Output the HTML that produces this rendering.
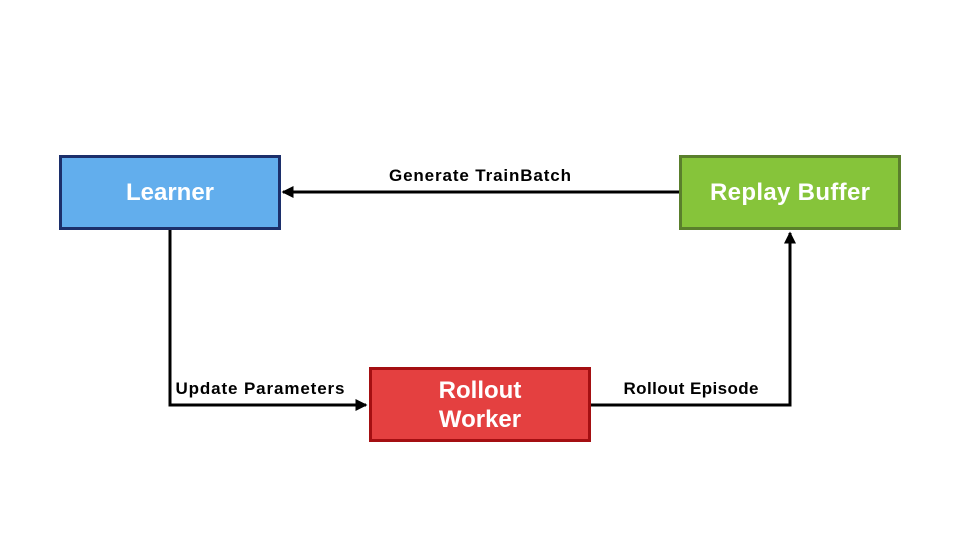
<!DOCTYPE html>
<html><head><style>
body{margin:0;background:#fff;}
svg text{font-family:"Liberation Sans",sans-serif;font-weight:bold;}
</style></head><body>
<svg width="960" height="540" viewBox="0 0 960 540" xmlns="http://www.w3.org/2000/svg">
<defs><marker id="a" markerWidth="4" markerHeight="4" refX="3.5" refY="2" orient="auto" markerUnits="strokeWidth"><path d="M0,0 L4,2 L0,4 z" fill="#000"/></marker></defs>
<rect x="60.5" y="156.5" width="219" height="72" fill="#62aeed" stroke="#1c2f6b" stroke-width="3"/>
<text x="170" y="200" font-size="24" fill="#fff" text-anchor="middle">Learner</text>
<rect x="680.5" y="156.5" width="219" height="72" fill="#86c43a" stroke="#5a7f2c" stroke-width="3"/>
<text x="790" y="200" font-size="24" fill="#fff" text-anchor="middle" textLength="160">Replay Buffer</text>
<rect x="370.5" y="368.5" width="219" height="72" fill="#e44040" stroke="#a40f12" stroke-width="3"/>
<text x="480" y="398" font-size="24" fill="#fff" text-anchor="middle">Rollout</text>
<text x="480" y="427" font-size="24" fill="#fff" text-anchor="middle">Worker</text>
<g stroke="#000" stroke-width="3" fill="none">
<path d="M679,192 L283,192" marker-end="url(#a)"/>
<path d="M170,230 L170,405 L366,405" marker-end="url(#a)"/>
<path d="M591,405 L790,405 L790,233" marker-end="url(#a)"/>
</g>
<text x="480" y="181" font-size="17" text-anchor="middle" textLength="182">Generate TrainBatch</text>
<text x="260" y="394" font-size="17" text-anchor="middle" textLength="169">Update Parameters</text>
<text x="691" y="394" font-size="17" text-anchor="middle" textLength="135">Rollout Episode</text>
</svg>
</body></html>
